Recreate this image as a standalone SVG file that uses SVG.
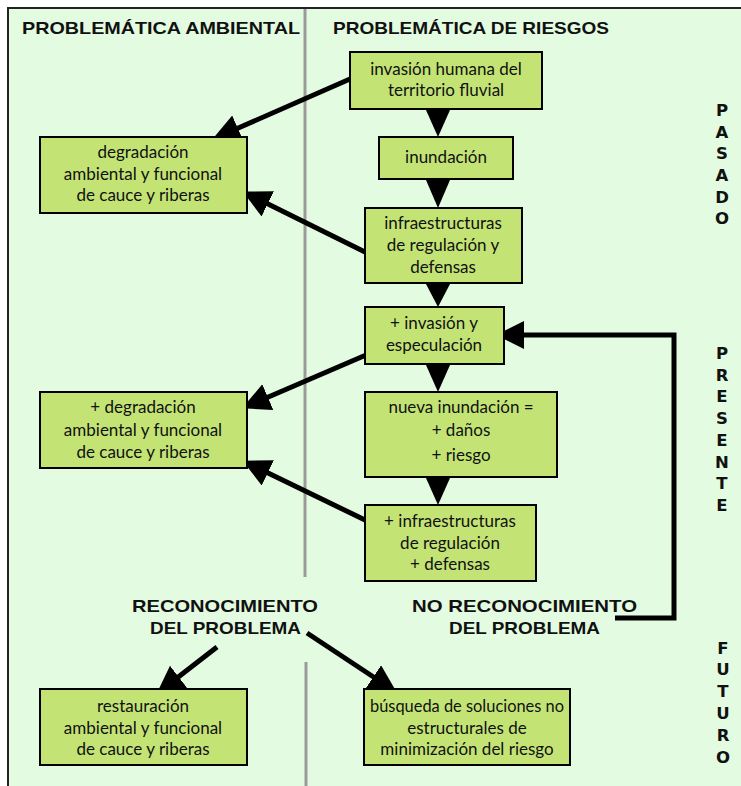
<svg xmlns="http://www.w3.org/2000/svg" width="741" height="786" viewBox="0 0 741 786">
<style>
.box{fill:#C3E475;stroke:#000;stroke-width:2}
.t{font-family:Lato,"Open Sans","Liberation Sans",sans-serif;font-size:17px;fill:#111;text-anchor:middle}
.h{font-family:"Liberation Sans",Arial,sans-serif;font-weight:bold;font-size:17px;fill:#111}
.v{font-family:"DejaVu Sans",Verdana,sans-serif;font-weight:bold;font-size:16.5px;fill:#111;text-anchor:middle}
.ln{stroke:#000;stroke-width:5;fill:none}
.div{stroke:#9a9a9a;stroke-width:3}
</style>
<defs>
<marker id="ah" markerUnits="userSpaceOnUse" markerWidth="30" markerHeight="30" refX="2" refY="14" orient="auto">
<path d="M0,0 L28,14 L0,28 z" fill="#000"/>
</marker>
</defs>
<rect x="0" y="0" width="741" height="786" fill="#fff"/>
<rect x="8" y="8" width="760" height="800" fill="#E3FCE1" stroke="#222" stroke-width="2"/>
<g id="dividers">
<line class="div" x1="305" y1="9" x2="305" y2="577"/>
<line class="div" x1="306" y1="662" x2="306" y2="786"/>
</g>
<g id="headers">
<text class="h" x="22" y="34" textLength="278" lengthAdjust="spacingAndGlyphs">PROBLEMÁTICA AMBIENTAL</text>
<text class="h" x="333" y="34" textLength="276" lengthAdjust="spacingAndGlyphs">PROBLEMÁTICA DE RIESGOS</text>
</g>
<g id="timeline">
<text class="v"><tspan x="722" y="116">P</tspan><tspan x="722" y="138">A</tspan><tspan x="722" y="159">S</tspan><tspan x="722" y="181">A</tspan><tspan x="722" y="203">D</tspan><tspan x="722" y="224">O</tspan></text>
<text class="v"><tspan x="722" y="359">P</tspan><tspan x="722" y="381">R</tspan><tspan x="722" y="402">E</tspan><tspan x="722" y="424">S</tspan><tspan x="722" y="446">E</tspan><tspan x="722" y="468">N</tspan><tspan x="722" y="489">T</tspan><tspan x="722" y="511">E</tspan></text>
<text class="v"><tspan x="723" y="654">F</tspan><tspan x="723" y="675">U</tspan><tspan x="723" y="697">T</tspan><tspan x="723" y="719">U</tspan><tspan x="723" y="741">R</tspan><tspan x="723" y="763">O</tspan></text>
</g>
<g id="connectors">
<polygon points="426,110 450,110 438,137" fill="#000"/>
<polygon points="426,180 450,180 438,208" fill="#000"/>
<polygon points="426,284 450,284 438,307" fill="#000"/>
<polygon points="426,365 450,365 438,392" fill="#000"/>
<polygon points="426,478 450,478 438,505" fill="#000"/>
<line class="ln" x1="350" y1="79" x2="236" y2="129" marker-end="url(#ah)"/>
<line class="ln" x1="365" y1="252" x2="266" y2="203" marker-end="url(#ah)"/>
<line class="ln" x1="380" y1="349" x2="266" y2="398" marker-end="url(#ah)"/>
<line class="ln" x1="365" y1="520" x2="266" y2="472" marker-end="url(#ah)"/>
<line class="ln" x1="217" y1="647" x2="177" y2="678" marker-end="url(#ah)"/>
<line class="ln" x1="307" y1="633" x2="375" y2="678" marker-end="url(#ah)"/>
<polyline class="ln" points="615,618 674,618 674,335 522,335" marker-end="url(#ah)"/>
</g>
<g id="n1"><rect class="box" x="350" y="52" width="192" height="57"/>
<text class="t"><tspan x="446" y="75">invasión humana del</tspan><tspan x="446" y="96">territorio fluvial</tspan></text></g>
<g id="n2"><rect class="box" x="379" y="137" width="134" height="42"/>
<text class="t" x="446" y="163">inundación</text></g>
<g id="n3"><rect class="box" x="365" y="208" width="157" height="75"/>
<text class="t"><tspan x="443" y="229">infraestructuras</tspan><tspan x="443" y="251">de regulación y</tspan><tspan x="443" y="273">defensas</tspan></text></g>
<g id="n4"><rect class="box" x="365" y="307" width="139" height="57"/>
<text class="t"><tspan x="434" y="329">+ invasión y</tspan><tspan x="434" y="351">especulación</tspan></text></g>
<g id="n5"><rect class="box" x="365" y="392" width="192" height="85"/>
<text class="t"><tspan x="461" y="413">nueva inundación =</tspan><tspan x="461" y="436">+ daños</tspan><tspan x="461" y="461">+ riesgo</tspan></text></g>
<g id="n6"><rect class="box" x="365" y="505" width="171" height="76"/>
<text class="t"><tspan x="450" y="527">+ infraestructuras</tspan><tspan x="450" y="549">de regulación</tspan><tspan x="450" y="570">+ defensas</tspan></text></g>
<g id="n7"><rect class="box" x="40" y="137" width="207" height="76"/>
<text class="t"><tspan x="143" y="158">degradación</tspan><tspan x="143" y="180">ambiental y funcional</tspan><tspan x="143" y="201">de cauce y riberas</tspan></text></g>
<g id="n8"><rect class="box" x="40" y="392" width="207" height="76"/>
<text class="t"><tspan x="143" y="413">+ degradación</tspan><tspan x="143" y="436">ambiental y funcional</tspan><tspan x="143" y="458">de cauce y riberas</tspan></text></g>
<g id="n9"><rect class="box" x="40" y="689" width="207" height="76"/>
<text class="t"><tspan x="143" y="712">restauración</tspan><tspan x="143" y="734">ambiental y funcional</tspan><tspan x="143" y="755">de cauce y riberas</tspan></text></g>
<g id="n10"><rect class="box" x="364" y="689" width="206" height="76"/>
<text class="t"><tspan x="467" y="712" textLength="194" lengthAdjust="spacingAndGlyphs">búsqueda de soluciones no</tspan><tspan x="467" y="734">estructurales de</tspan><tspan x="467" y="755">minimización del riesgo</tspan></text></g>
<g id="labels">
<text class="h" x="132" y="612" textLength="186" lengthAdjust="spacingAndGlyphs">RECONOCIMIENTO</text>
<text class="h" x="150" y="634" textLength="151" lengthAdjust="spacingAndGlyphs">DEL PROBLEMA</text>
<text class="h" x="412" y="612" textLength="225" lengthAdjust="spacingAndGlyphs">NO RECONOCIMIENTO</text>
<text class="h" x="449" y="634" textLength="151" lengthAdjust="spacingAndGlyphs">DEL PROBLEMA</text>
</g>
</svg>
